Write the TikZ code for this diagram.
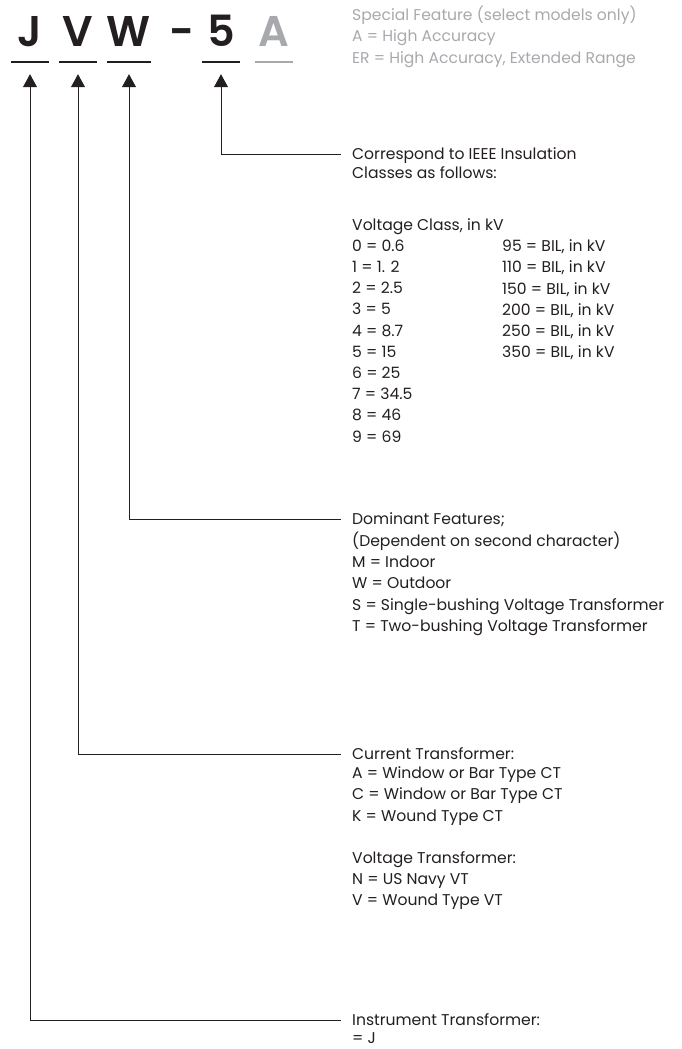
\documentclass[tikz,border=0pt]{standalone}
\usepackage{fontspec}
\setmainfont{Poppins}
\newfontfamily\codefont{Poppins SemiBold}
\usetikzlibrary{positioning, arrows.meta}
\definecolor{inkgray}{RGB}{35,31,32}
\definecolor{softgray}{RGB}{167,169,172}

\begin{document}
\begin{tikzpicture}[
        x=1pt, y=-1pt,
        code/.style={font=\fontsize{43}{43}\selectfont\codefont, text=inkgray, inner sep=0pt, text depth=15pt, minimum width=38pt, anchor=base},
        head/.style={font=\fontsize{15.6}{21.2}\selectfont, text=inkgray, anchor=west, inner xsep=11pt, inner ysep=0pt, text height=13pt, text depth=2pt},
        body/.style={font=\fontsize{15.6}{21.2}\selectfont, text=inkgray, align=left, inner sep=0pt},
        link/.style={draw=inkgray, line width=0.9pt, {Triangle[width=14pt,length=13pt]}-, shorten <=12pt},
        bar/.style={line width=2pt}
    ]
        \useasboundingbox (0,0) rectangle (682,1049);

        % model code
        \node[code] (J) at (30,47) {J};
        \node[code] (V) at (78,47) {V};
        \node[code] (W) at (129,47) {W};
        \node[code, minimum width=0pt] (D) at (182,47) {-};
        \node[code] (F) at (221,47) {5};
        \node[code, text=softgray] (A) at (274,47) {A};
        \foreach \c in {J,V,W,F}
            \draw[bar, inkgray] (\c.south west) -- (\c.south east);
        \draw[bar, softgray] (A.south west) -- (A.south east);

        % special feature
        \node[body, text=softgray, anchor=north west] (SF) at (352,6) {Special Feature (select models only)\\A = High Accuracy\\ER = High Accuracy, Extended Range};

        % insulation class
        \node[head] (hF) at (341,154) {Correspond to IEEE Insulation};
        \node[body, below right=5pt and 11pt of hF.south west] (bF) {Classes as follows:\\[30.2pt]Voltage Class, in kV};
        \node[body, below right=5pt and 0pt of bF.south west] (LC) {0 = 0.6\\1 = 1. 2\\2 = 2.5\\3 = 5\\4 = 8.7\\5 = 15\\6 = 25\\7 = 34.5\\8 = 46\\9 = 69};
        \node[body, right=150pt of LC.north west, anchor=north west] (RC) {95 = BIL, in kV\\110 = BIL, in kV\\150 = BIL, in kV\\200 = BIL, in kV\\250 = BIL, in kV\\350 = BIL, in kV};

        % dominant features
        \node[head] (hW) at (341,519) {Dominant Features;};
        \node[body, below right=5pt and 11pt of hW.south west] (bW) {(Dependent on second character)\\M = Indoor\\W = Outdoor\\S = Single-bushing Voltage Transformer\\T = Two-bushing Voltage Transformer};

        % transformer type
        \node[head] (hV) at (341,754) {Current Transformer:};
        \node[body, below right=5pt and 11pt of hV.south west] (bV) {A = Window or Bar Type CT\\C = Window or Bar Type CT\\K = Wound Type CT\\[21.2pt]Voltage Transformer:\\N = US Navy VT\\V = Wound Type VT};

        % instrument transformer
        \node[head] (hJ) at (341,1020) {Instrument Transformer:};
        \node[body, below right=5pt and 11pt of hJ.south west] (bJ) {= J};

        \draw[link] (F.south) |- (hF.west);
        \draw[link] (W.south) |- (hW.west);
        \draw[link] (V.south) |- (hV.west);
        \draw[link] (J.south) |- (hJ.west);
    \end{tikzpicture}
\end{document}
